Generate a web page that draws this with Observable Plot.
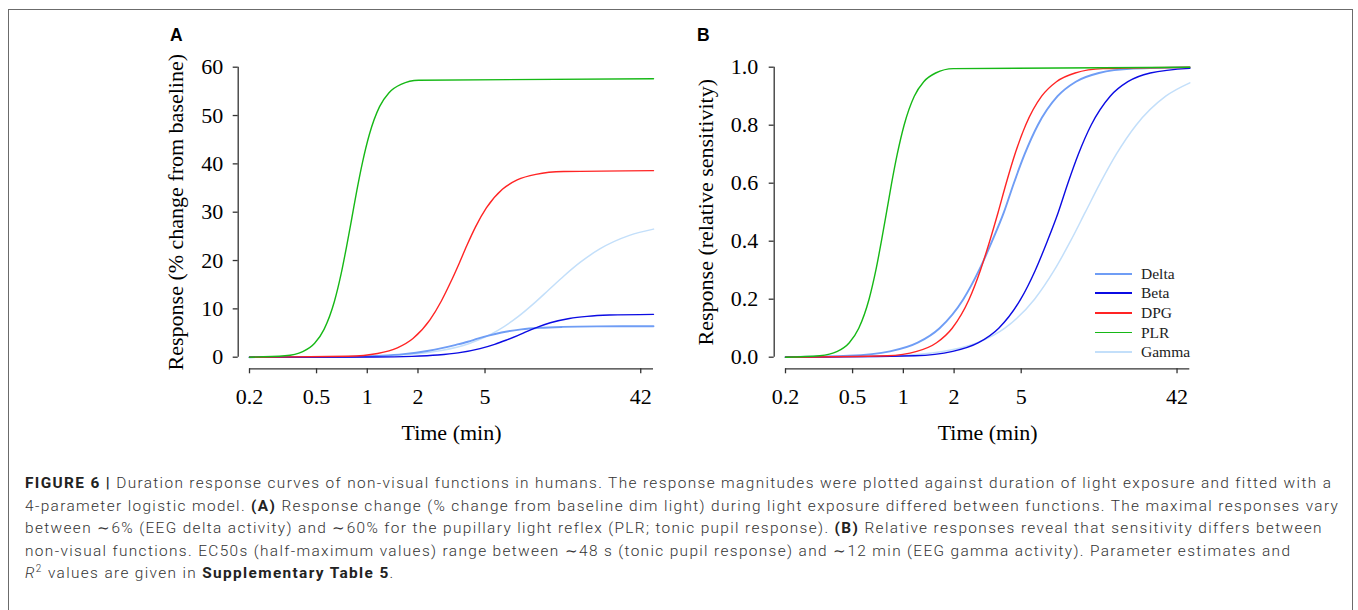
<!DOCTYPE html>
<html>
<head>
<meta charset="utf-8">
<script src="https://cdn.jsdelivr.net/npm/d3@7"></script>
<script src="https://cdn.jsdelivr.net/npm/@observablehq/plot@0.6"></script>
<style>
  html, body { margin: 0; padding: 0; background: #fff; }
  body { width: 1358px; height: 610px; overflow: hidden; position: relative; }
  #frame { position: absolute; left: 8px; top: 9px; width: 1345px; height: 700px; border: 1px solid #6b6b6b; box-sizing: border-box; }
  .panel { position: absolute; top: 18px; }
  .letter { position: absolute; font-family: "Liberation Sans", Arial, sans-serif; font-weight: bold; font-size: 17.5px; line-height: 17.5px; color: #000; }
  #legend { position: absolute; left: 1095px; top: 264px; font-family: "Liberation Serif", serif; font-size: 15.5px; color: #222; }
  #legend .row { display: flex; align-items: center; height: 19.6px; }
  #legend .sw { width: 37px; margin-right: 9px; }
  #caption { position: absolute; left: 25px; top: 472px; font-family: "Roboto", "Liberation Sans", sans-serif; font-weight: 300; color: #333; font-size: 15.4px; line-height: 22.6px; white-space: nowrap; }
  #caption b { font-weight: 700; color: #222; }
</style>
</head>
<body>
<div id="frame"></div>
<div class="letter" style="left:170px; top:27px;">A</div>
<div class="letter" style="left:697px; top:27px;">B</div>
<div id="panelA" class="panel" style="left:140px;"></div>
<div id="panelB" class="panel" style="left:680px;"></div>
<div id="legend"></div>
<div id="caption">
  <div id="cap1"><b>FIGURE 6 |</b> Duration response curves of non-visual functions in humans. The response magnitudes were plotted against duration of light exposure and fitted with a</div>
  <div>4-parameter logistic model. <b>(A)</b> Response change (% change from baseline dim light) during light exposure differed between functions. The maximal responses vary</div>
  <div>between ∼6% (EEG delta activity) and ∼60% for the pupillary light reflex (PLR; tonic pupil response). <b>(B)</b> Relative responses reveal that sensitivity differs between</div>
  <div>non-visual functions. EC50s (half-maximum values) range between ∼48 s (tonic pupil response) and ∼12 min (EEG gamma activity). Parameter estimates and</div>
  <div><i>R</i><sup style="font-size:10px; line-height:0;">2</sup> values are given in <b>Supplementary Table 5</b>.</div>
</div>
<script>
// ---------- data ----------
const seriesNames = ["Delta", "Beta", "DPG", "PLR", "Gamma"];
const seriesColors = ["#6f9df5", "#0b0be3", "#ff2424", "#16b816", "#c3dffa"];
const seriesWidths = [1.9, 1.4, 1.4, 1.4, 1.5];
const drawOrder = ["Gamma", "Delta", "Beta", "DPG", "PLR"];

const xDomain = [0.2, 50];
const xTicks = [0.2, 0.5, 1, 2, 5, 42];
const xTickLabels = ["0.2", "0.5", "1", "2", "5", "42"];

const yDomainA = [0, 60];
const yTicksA = [0, 10, 20, 30, 40, 50, 60];
const yDomainB = [0, 1];
const yTicksB = [0, 0.2, 0.4, 0.6, 0.8, 1.0];

// Panel A: response (% change from baseline), [time (min), value]
const deltaA = [[0.2,0.004],[0.475,0.032],[0.833,0.128],[1.216,0.32],[1.64,0.64],[2.269,1.28],[2.813,1.92],[3.359,2.56],[3.95,3.2],[4.522,3.84],[5.241,4.48],[6.269,5.12],[8.215,5.76],[10.543,6.08],[14.45,6.27],[23.068,6.37],[50,6.4]];
const betaA = [[0.2,0],[1.099,0.045],[1.846,0.178],[2.622,0.445],[3.458,0.89],[4.669,1.78],[5.701,2.67],[6.713,3.56],[7.802,4.45],[8.892,5.34],[10.257,6.23],[12.203,7.12],[15.845,8.01],[20.17,8.455],[27.383,8.72],[50,8.87]];
const dpgA = [[0.2,0],[0.771,0.19],[1.152,0.77],[1.509,1.93],[1.868,3.86],[2.355,7.72],[2.748,11.58],[3.118,15.44],[3.5,19.3],[3.906,23.16],[4.401,27.02],[5.092,30.88],[6.339,34.74],[7.759,36.67],[10.02,37.83],[14.64,38.41],[50,38.6]];
const plrA = [[0.2,0],[0.325,0.29],[0.414,1.15],[0.487,2.88],[0.554,5.76],[0.638,11.52],[0.7,17.28],[0.755,23.04],[0.81,28.8],[0.868,34.56],[0.937,40.32],[1.029,46.08],[1.183,51.84],[1.346,54.72],[1.585,56.45],[2.018,57.31],[50,57.6]];
const gammaA = [[0.2,0.01],[0.851,0.14],[1.715,0.56],[2.752,1.4],[4.0,2.8],[6.0,5.6],[7.855,8.4],[9.8,11.2],[12,14],[14.695,16.8],[18.33,19.6],[24.0,22.4],[35.99,25.2],[50,26.5]];

// Panel B: relative sensitivity, [time (min), value]
const deltaB = [[0.2,0.0006],[0.475,0.005],[0.833,0.02],[1.216,0.05],[1.64,0.1],[2.269,0.2],[2.813,0.3],[3.359,0.4],[3.95,0.5],[4.522,0.6],[5.241,0.7],[6.269,0.8],[8.215,0.9],[10.543,0.95],[14.45,0.98],[23.068,0.995],[50,0.9995]];
const betaB = [[0.2,0],[1.169,0.005],[1.964,0.02],[2.789,0.05],[3.679,0.1],[4.967,0.2],[6.065,0.3],[7.142,0.4],[8.3,0.5],[9.46,0.6],[10.912,0.7],[12.982,0.8],[16.856,0.9],[21.457,0.95],[29.131,0.98],[50,0.996]];
const dpgB = [[0.2,0],[0.804,0.005],[1.201,0.02],[1.574,0.05],[1.948,0.1],[2.456,0.2],[2.865,0.3],[3.251,0.4],[3.65,0.5],[4.073,0.6],[4.589,0.7],[5.31,0.8],[6.61,0.9],[8.091,0.95],[10.449,0.98],[15.264,0.995],[50,1]];
const plrB = [[0.2,0],[0.319,0.005],[0.406,0.02],[0.478,0.05],[0.544,0.1],[0.626,0.2],[0.687,0.3],[0.741,0.4],[0.795,0.5],[0.852,0.6],[0.92,0.7],[1.01,0.8],[1.161,0.9],[1.321,0.95],[1.555,0.98],[1.98,0.995],[50,1]];
const gammaB = [[0.2,0.0003],[0.851,0.005],[1.715,0.02],[2.752,0.05],[4.0,0.1],[6.0,0.2],[7.855,0.3],[9.8,0.4],[12,0.5],[14.695,0.6],[18.33,0.7],[24.0,0.8],[35.99,0.9],[50,0.946]];

const seriesA = {Delta: deltaA, Beta: betaA, DPG: dpgA, PLR: plrA, Gamma: gammaA};
const seriesB = {Delta: deltaB, Beta: betaB, DPG: dpgB, PLR: plrB, Gamma: gammaB};

// ---------- drawing ----------
const axisColor = "#333";
const fontSerif = "Liberation Serif, Times New Roman, serif";
const tickSize = 5, xTickPadding = 15;
const xFmt = d => {
  const i = xTicks.findIndex(t => Math.abs(t - d) < 1e-6 * t);
  return i >= 0 ? xTickLabels[i] : "";
};

function makePanel(series, cfg) {
  const lineMarks = drawOrder.map(name => {
    const i = seriesNames.indexOf(name);
    const rows = series[name].map(([t, v]) => ({t, v, series: name}));
    return Plot.line(rows, {x: "t", y: "v", stroke: seriesColors[i], strokeWidth: seriesWidths[i], curve: "monotone-x"});
  });
  return Plot.plot({
    width: cfg.width, height: cfg.height,
    marginLeft: cfg.ml, marginRight: cfg.mr, marginTop: cfg.mt, marginBottom: cfg.mb,
    style: {fontFamily: fontSerif, fontSize: "22px", color: "#000", background: "transparent", overflow: "visible"},
    x: {type: "log", domain: xDomain},
    y: {domain: cfg.yDomain},
    marks: [
      Plot.ruleX([xDomain[0]], {y1: cfg.yDomain[0], y2: cfg.yDomain[1], dx: -cfg.yGap, stroke: axisColor, strokeWidth: 1.3}),
      Plot.ruleY([cfg.yDomain[0]], {x1: xDomain[0], x2: xDomain[1], dy: cfg.xGap, stroke: axisColor, strokeWidth: 1.3}),
      Plot.axisY({ticks: cfg.yTicks, tickFormat: cfg.yFmt, tickSize, tickPadding: cfg.yPad, dx: -cfg.yGap,
        stroke: axisColor, strokeWidth: 1.3, fill: "#000", label: cfg.yLabel, labelAnchor: "center", labelArrow: "none", labelOffset: cfg.yLabelOffset}),
      // tick marks + title (labels drawn below with a text mark so every tick is labelled on the log scale)
      Plot.axisX({ticks: xTicks, tickFormat: () => "", tickSize, tickPadding: xTickPadding, dy: cfg.xGap,
        stroke: axisColor, strokeWidth: 1.3, fill: "#000", label: "Time (min)", labelAnchor: "center", labelArrow: "none", labelOffset: cfg.xLabelOffset}),
      Plot.text(xTicks, {x: d => d, text: xFmt, frameAnchor: "bottom", lineAnchor: "top",
        dy: cfg.xGap + tickSize + xTickPadding, fill: "#000"}),
      ...lineMarks
    ]
  });
}

const common = {width: 530, height: 432, mt: 48.7, mb: 93.3, yGap: 11.3, xGap: 11.6, xLabelOffset: 83};
document.getElementById("panelA").appendChild(makePanel(seriesA, {
  ...common, ml: 109, mr: 17, yDomain: yDomainA, yTicks: yTicksA, yFmt: d => String(d), yPad: 10,
  yLabel: "Response (% change from baseline)", yLabelOffset: 82
}));
document.getElementById("panelB").appendChild(makePanel(seriesB, {
  ...common, ml: 105, mr: 20.7, yDomain: yDomainB, yTicks: yTicksB, yFmt: d => d.toFixed(1), yPad: 11,
  yLabel: "Response (relative sensitivity)", yLabelOffset: 88
}));

// legend
const legend = document.getElementById("legend");
seriesNames.forEach((name, i) => {
  const row = document.createElement("div");
  row.className = "row";
  const sw = document.createElement("span");
  sw.className = "sw";
  sw.style.height = (name === "Delta" ? 2.6 : 1.8) + "px";
  sw.style.background = seriesColors[i];
  const label = document.createElement("span");
  label.textContent = name;
  row.appendChild(sw); row.appendChild(label);
  legend.appendChild(row);
});

// caption: fit first line width to the reference width with letter spacing
const cap = document.getElementById("caption");
const cap1 = document.getElementById("cap1");
const range = document.createRange();
range.selectNodeContents(cap1);
const w = range.getBoundingClientRect().width;
const nChars = cap1.textContent.length;
cap.style.letterSpacing = ((1307 - w) / nChars).toFixed(3) + "px";
</script>
</body>
</html>
